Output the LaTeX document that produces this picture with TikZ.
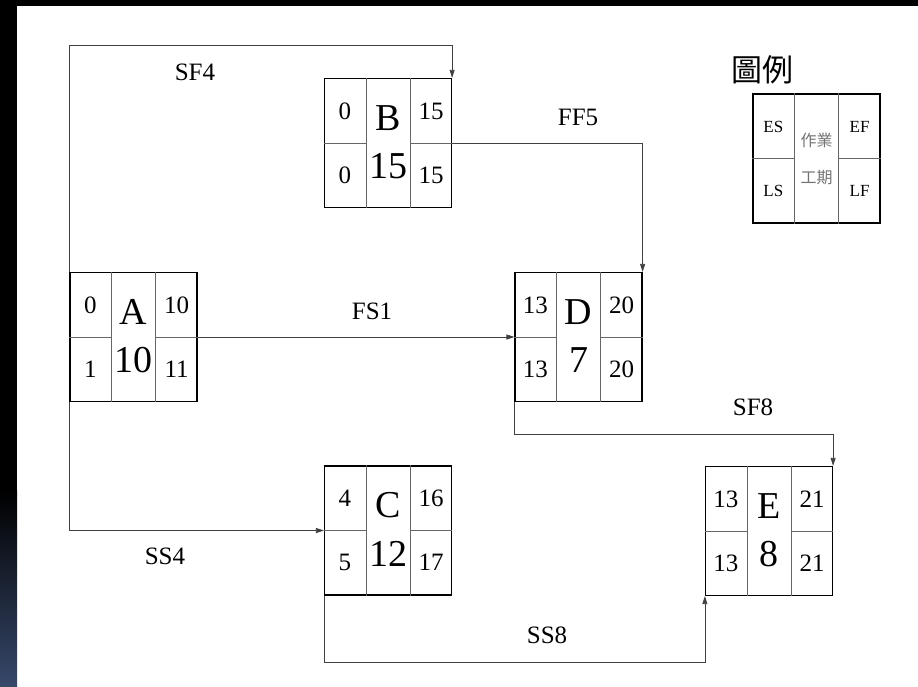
\documentclass[tikz,border=0pt]{standalone}
\usepackage{fontspec}
\setmainfont{Liberation Serif}
\newfontfamily\cjk{Noto Sans CJK TC}
\usepackage{xcolor}
\usetikzlibrary{arrows.meta, calc}
\definecolor{sidebar}{RGB}{55,72,106}
\tikzset{
  act/.style={rectangle, draw=black, line width=1.2pt, minimum width=127pt, minimum height=129pt, inner sep=0pt},
  cellline/.style={draw=black!60, line width=0.8pt},
  num/.style={font=\fontsize{25}{25}\selectfont, inner sep=0pt},
  big/.style={font=\fontsize{38}{38}\selectfont, inner sep=0pt},
  lbl/.style={font=\fontsize{25}{25}\selectfont, inner sep=0pt},
  keytext/.style={font=\fontsize{17}{17}\selectfont, inner sep=0pt},
  keycjk/.style={font=\cjk\fontsize{16}{16}\selectfont, text=black!55, inner sep=0pt},
  link/.style={-{Triangle[length=8pt, width=5pt]}, draw=black!75, line width=0.8pt},
}

\begin{document}
\begin{tikzpicture}[x=1pt, y=-1pt]
  \useasboundingbox (0,0) rectangle (918,686);

  % background frame
  \fill[black] (0,0) rectangle (918,686);
  \fill[white] (17,6) rectangle (918,686);
  \shade[top color=black, bottom color=sidebar] (0,490) rectangle (17,686);

  % activities
  \foreach \n/\x/\y/\es/\ef/\ls/\lf/\dur in {A/133.5/337/0/10/1/11/10, B/388/143/0/15/0/15/15,
      C/388/530.5/4/16/5/17/12, D/578.5/337/13/20/13/20/7, E/769/531/13/21/13/21/8} {
    \node[act] (\n) at (\x,\y) {};
    \node[num] (\n-es) at ([xshift=21pt, yshift=32pt]\n.west) {\es};
    \node[num] (\n-ls) at ([xshift=21pt, yshift=-32pt]\n.west) {\ls};
    \node[num] (\n-ef) at ([xshift=-21pt, yshift=32pt]\n.east) {\ef};
    \node[num] (\n-lf) at ([xshift=-21pt, yshift=-32pt]\n.east) {\lf};
    \node[big] (\n-name) at ([yshift=25pt]\n.center) {\n};
    \node[big] (\n-dur) at ([yshift=-23pt]\n.center) {\dur};
  }

  % legend
  \node[font=\cjk\fontsize{31}{31}\selectfont, inner sep=0pt] (keytitle) at (762,70) {圖例};
  \node[act] (key) at (816.5,158.5) {};
  \node[keytext] (key-es) at ([xshift=21pt, yshift=32pt]key.west) {ES};
  \node[keytext] (key-ls) at ([xshift=21pt, yshift=-32pt]key.west) {LS};
  \node[keytext] (key-ef) at ([xshift=-21pt, yshift=32pt]key.east) {EF};
  \node[keytext] (key-lf) at ([xshift=-21pt, yshift=-32pt]key.east) {LF};
  \node[keycjk] (key-name) at ([yshift=18pt]key.center) {作業};
  \node[keycjk] (key-dur) at ([yshift=-19pt]key.center) {工期};

  % cell lines
  \foreach \n in {A,B,C,D,E,key} {
    \draw[cellline] ([xshift=42pt]\n.north west) -- ([xshift=42pt]\n.south west);
    \draw[cellline] ([xshift=-42pt]\n.north east) -- ([xshift=-42pt]\n.south east);
    \draw[cellline] (\n.west) -- ([xshift=42pt]\n.west);
    \draw[cellline] ([xshift=-42pt]\n.east) -- (\n.east);
  }

  % relations
  \draw[link] (A.north west) -- ++(0,-227) -| (B.north east);
  \draw[link] (B.east) -| (D.north east);
  \draw[link] (A.east) -- (D.west);
  \draw[link] (A.south west) |- (C.west);
  \draw[link] (D.south west) -- ++(0,32) -| (E.north east);
  \draw[link] (C.south west) -- ++(0,67) -| (E.south west);

  \node[lbl] (l-sf4) at (195,72) {SF4};
  \node[lbl] (l-ff5) at (578,117) {FF5};
  \node[lbl] (l-fs1) at (372,311) {FS1};
  \node[lbl] (l-ss4) at (165,556) {SS4};
  \node[lbl] (l-sf8) at (753,407) {SF8};
  \node[lbl] (l-ss8) at (547,635) {SS8};
\end{tikzpicture}
\end{document}
